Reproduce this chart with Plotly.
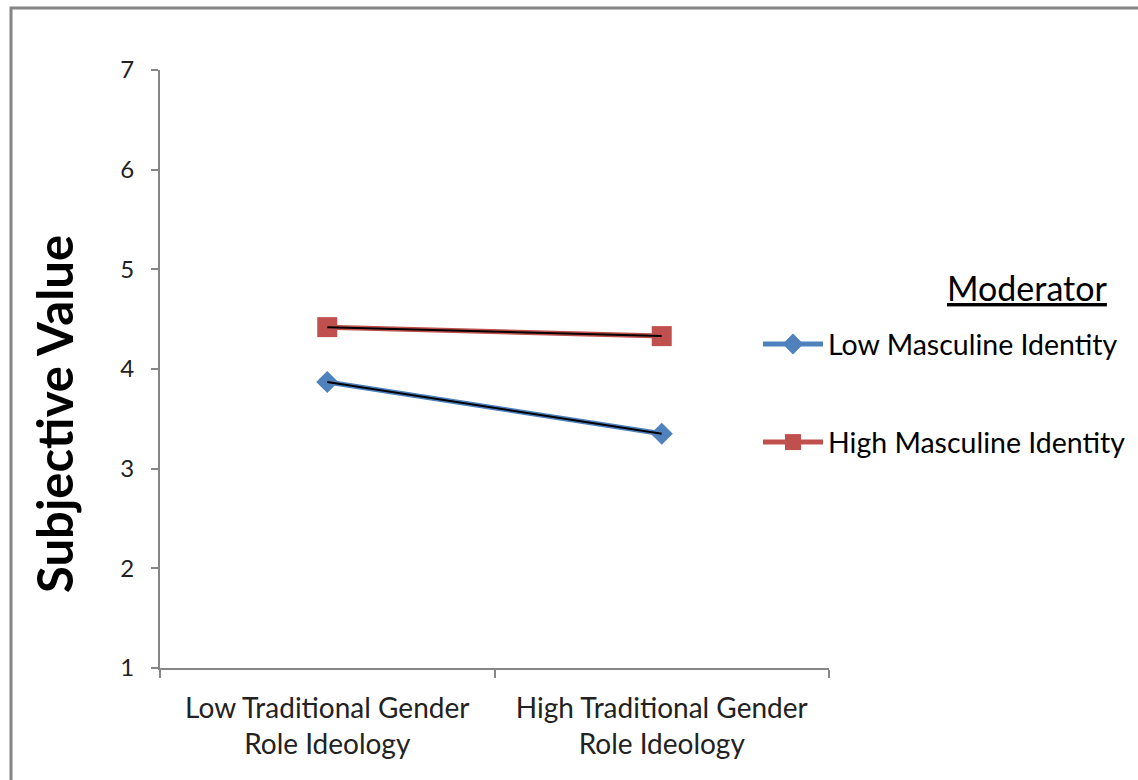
import plotly.graph_objects as go

# Categories and cell means
categories = ["Low Traditional Gender<br>Role Ideology", "High Traditional Gender<br>Role Ideology"]
low_masc = [3.87, 3.35]
high_masc = [4.42, 4.33]
series_names = ["Low Masculine Identity", "High Masculine Identity"]
y_ticks = [1, 2, 3, 4, 5, 6, 7]

BLUE = "#4F81BD"
RED = "#C0504D"
AXIS = "#868686"
FONT = "Lato"

fig = go.Figure()

fig.add_trace(go.Scatter(
    x=categories, y=low_masc, name=series_names[0], mode="lines+markers",
    line=dict(color=BLUE, width=5), marker=dict(symbol="diamond", size=17, color=BLUE),
    legendgroup="a"))
fig.add_trace(go.Scatter(
    x=categories, y=high_masc, name=series_names[1], mode="lines+markers",
    line=dict(color=RED, width=5), marker=dict(symbol="square", size=20, color=RED),
    legendgroup="b"))

# thin black linear trend over each series
for vals in (low_masc, high_masc):
    fig.add_trace(go.Scatter(x=categories, y=vals, mode="lines",
                             line=dict(color="black", width=2),
                             showlegend=False, hoverinfo="skip"))

W, H = 1138, 780
L, R, T, B = 160, 309, 70, 112
pw, ph = W - L - R, H - T - B

def px_x(p):
    return (p - L) / pw

def px_y(p):
    return (H - B - p) / ph

fig.update_layout(
    width=W, height=H,
    margin=dict(l=L, r=R, t=T, b=B, autoexpand=False),
    paper_bgcolor="white", plot_bgcolor="white",
    font=dict(family=FONT, color="#222222"),
    showlegend=True,
    legend=dict(x=px_x(758), xanchor="left", y=px_y(319), yanchor="top",
                font=dict(size=28.5, family=FONT, color="black"),
                itemwidth=60,
                tracegroupgap=58, bgcolor="rgba(0,0,0,0)"),
    xaxis=dict(type="category", range=[-0.5, 1.5], showline=True, linecolor=AXIS,
               linewidth=2, ticks="outside", tickson="boundaries", ticklen=8,
               tickcolor=AXIS, tickwidth=2, showgrid=False, zeroline=False,
               ticklabelstandoff=14,
               tickfont=dict(size=28, family=FONT, color="#222222")),
    yaxis=dict(range=[1, 7], tickvals=y_ticks, showline=True, linecolor=AXIS,
               linewidth=2, ticks="outside", ticklen=7, tickcolor=AXIS, tickwidth=2,
               showgrid=False, zeroline=False, ticklabelstandoff=12,
               tickfont=dict(size=24, family=FONT, color="#222222")),
)

fig.add_annotation(text="<b>Subjective Value</b>", textangle=-90,
                   xref="paper", yref="paper", x=px_x(54), y=px_y(414),
                   xanchor="center", yanchor="middle", showarrow=False,
                   font=dict(size=49, family=FONT, color="black"))

fig.add_annotation(text="<span style='text-decoration:underline'>Moderator</span>",
                   xref="paper", yref="paper", x=px_x(1027), y=px_y(287),
                   xanchor="center", yanchor="middle", showarrow=False,
                   font=dict(size=34, family=FONT, color="black"))

# chart area border
fig.add_shape(type="rect", xref="paper", yref="paper",
              x0=px_x(11), y0=px_y(790), x1=px_x(1150), y1=px_y(8),
              line=dict(color=AXIS, width=3), fillcolor="rgba(0,0,0,0)")

fig.write_html("out.html")
